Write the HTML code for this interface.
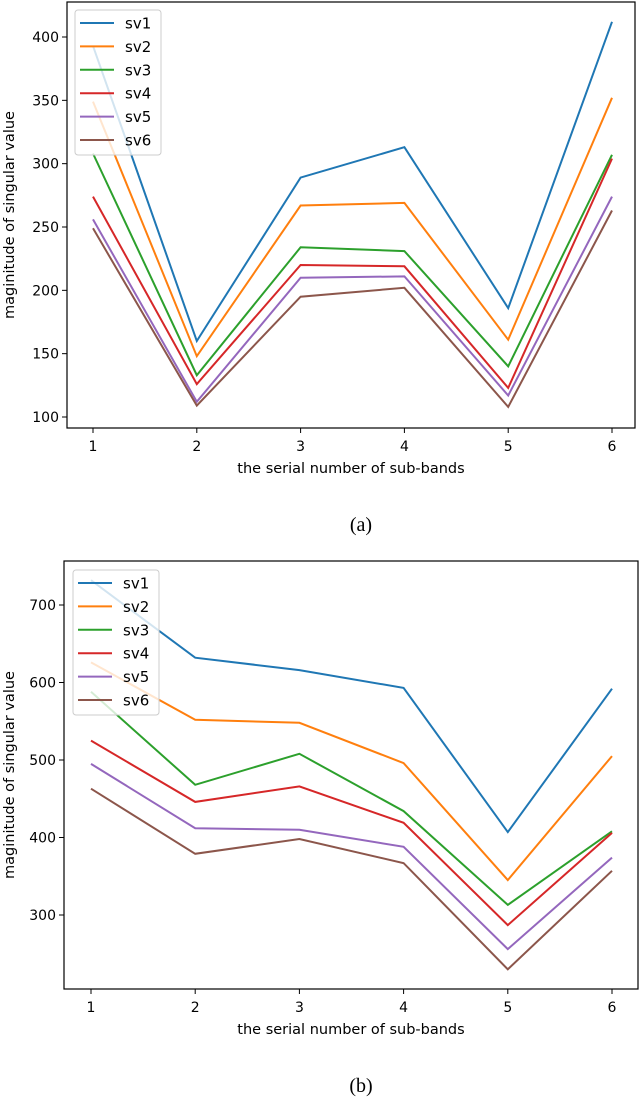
<!DOCTYPE html>
<html><head><meta charset="utf-8"><style>
html,body{margin:0;padding:0;background:#fff;}
svg{display:block;font-family:"DejaVu Sans","Liberation Sans",sans-serif;}
</style></head><body>
<svg id="svg" width="640" height="1097" viewBox="0 0 640 1097"></svg>
<script>
const categories = [1,2,3,4,5,6];
const seriesNames = ["sv1","sv2","sv3","sv4","sv5","sv6"];
const colors = ["#1f77b4","#ff7f0e","#2ca02c","#d62728","#9467bd","#8c564b"];
const aSv1 = [393,160,289,313,186,412];
const aSv2 = [349,148,267,269,161,352];
const aSv3 = [308,133,234,231,140,307];
const aSv4 = [274,126,220,219,123,304];
const aSv5 = [256,112,210,211,117,274];
const aSv6 = [249,109,195,202,108,263];
const aTicks = [100,150,200,250,300,350,400];
const bSv1 = [732,632,616,593,407,592];
const bSv2 = [626,552,548,496,345,505];
const bSv3 = [588,468,508,434,313,408];
const bSv4 = [525,446,466,419,287,406];
const bSv5 = [495,412,410,388,256,374];
const bSv6 = [463,379,398,367,230,357];
const bTicks = [300,400,500,600,700];

const NS="http://www.w3.org/2000/svg";
const svg=document.getElementById('svg');
function mk(tag,attrs,parent){const e=document.createElementNS(NS,tag);for(const k in attrs)e.setAttribute(k,attrs[k]);(parent||svg).appendChild(e);return e;}

function drawChart(cfg){
  const g=mk('g',{});
  
  
  const xs=v=>cfg.x1+(v-1)*(cfg.x6-cfg.x1)/5;
  const ys=v=>cfg.yA+(v-cfg.vA)*(cfg.yB-cfg.yA)/(cfg.vB-cfg.vA);
  cfg.series.forEach((s,i)=>{
    const pts=s.map((v,j)=>xs(categories[j]).toFixed(1)+','+ys(v).toFixed(1)).join(' ');
    const p=mk('polyline',{points:pts,fill:'none',stroke:colors[i],'stroke-width':2,'stroke-linejoin':'miter'},g);
    
    
  });
  const box=mk('rect',{x:cfg.L,y:cfg.T,width:cfg.R-cfg.L,height:cfg.B-cfg.T,fill:'none',stroke:'#000','stroke-width':1.2},g);
  
  
  cfg.ticks.forEach(t=>{
    const y=ys(t);
    mk('line',{x1:cfg.L-5,x2:cfg.L,y1:y,y2:y,stroke:'#000','stroke-width':1},g);
    const tx=mk('text',{x:cfg.L-8,y:y+5,'text-anchor':'end','font-size':14},g);
    tx.textContent=t;
    
    
  });
  categories.forEach(c=>{
    const x=xs(c);
    mk('line',{x1:x,x2:x,y1:cfg.B,y2:cfg.B+5,stroke:'#000','stroke-width':1},g);
    const tx=mk('text',{x:x,y:cfg.B+23,'text-anchor':'middle','font-size':14},g);
    tx.textContent=c;
    
    
  });
  const xl=mk('text',{x:(cfg.L+cfg.R)/2,y:cfg.B+45,'text-anchor':'middle','font-size':14.5},g);
  xl.textContent='the serial number of sub-bands';
  
  
  const cy=(cfg.T+cfg.B)/2;
  const yl=mk('text',{x:14,y:cy,'text-anchor':'middle','font-size':14.5,transform:'rotate(-90 14 '+cy+')'},g);
  yl.textContent='maginitude of singular value';
  
  
  const lg=mk('g',{},g);
  
  
  mk('rect',{x:cfg.lx,y:cfg.ly,width:86,height:145,rx:3,fill:'#fff','fill-opacity':0.8,stroke:'#ccc','stroke-width':1},lg);
  seriesNames.forEach((n,i)=>{
    const y=cfg.ly+13+i*23.4;
    const e=mk('g',{},lg);
    
    
    mk('line',{x1:cfg.lx+5,x2:cfg.lx+39,y1:y,y2:y,stroke:colors[i],'stroke-width':2},e);
    const t=mk('text',{x:cfg.lx+50,y:y+5.5,'font-size':15},e);
    t.textContent=n;
  });
  const cap=mk('text',{x:(cfg.L+cfg.R)/2+10,y:cfg.capY,'text-anchor':'middle','font-size':20,'font-family':'"Liberation Serif",serif'},g);
  cap.textContent=cfg.caption;
  
  
}

drawChart({id:'chart-a',L:67,R:635,T:2,B:428,x1:93,x6:612,yA:417,vA:100,yB:37,vB:400,
  ticks:aTicks,series:[aSv1,aSv2,aSv3,aSv4,aSv5,aSv6],lx:75,ly:10,caption:'(a)',capY:531});
drawChart({id:'chart-b',L:64,R:638,T:561,B:989,x1:91,x6:612,yA:605,vA:700,yB:682.5,vB:600,
  ticks:bTicks,series:[bSv1,bSv2,bSv3,bSv4,bSv5,bSv6],lx:73,ly:570,caption:'(b)',capY:1092});
</script>
</body></html>
